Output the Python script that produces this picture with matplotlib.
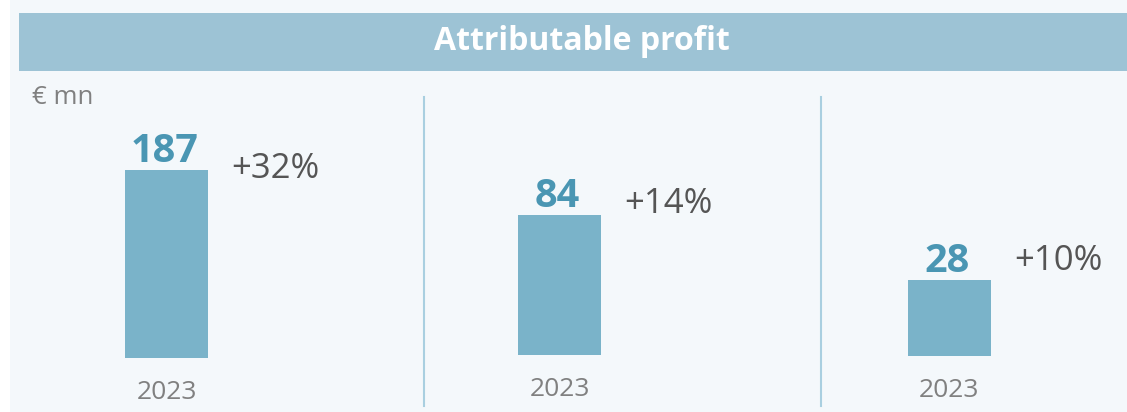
import matplotlib
matplotlib.use("Agg")
import matplotlib.pyplot as plt
from matplotlib.patches import Rectangle
from matplotlib.lines import Line2D

# attributable profit per business, € mn, with y/y change
values = [187, 84, 28]
changes = ["+32%", "+14%", "+10%"]
years = ["2023", "2023", "2023"]

BG = "#f4f8fb"
BAND = "#9dc3d5"
BAR = "#7ab3c9"
NUM = "#4a96b3"
PCT = "#555555"
GREY = "#808080"
SEP = "#a9cfe0"

W, H = 1127, 412
plt.rcParams["font.family"] = ["Open Sans", "DejaVu Sans"]

fig = plt.figure(figsize=(W / 100, H / 100), dpi=100)
fig.patch.set_facecolor(BG)


def fx(px):
    return px / W


def fy(py):
    return 1 - py / H


# white margin on the left, title band on top
fig.add_artist(Rectangle((0, 0), fx(10), 1, transform=fig.transFigure,
                         facecolor="white", edgecolor="none"))
fig.add_artist(Rectangle((fx(19), fy(71)), fx(W - 19), (71 - 13) / H,
                         transform=fig.transFigure, facecolor=BAND, edgecolor="none"))
fig.text(fx(582), fy(42), "Attributable profit", color="white", fontsize=23,
         fontweight="bold", ha="center", va="center")
fig.text(fx(32), fy(97), "€ mn", color=GREY, fontsize=18.5, ha="left", va="center")

# panel dividers
for x in (424, 821):
    fig.add_artist(Line2D([fx(x), fx(x)], [fy(406), fy(97)], transform=fig.transFigure,
                          color=SEP, lw=1.5))

# per-panel layout: bar centre (px), base (px), y-limit, pct text baseline offset (px)
centres = [166.5, 559.5, 949]
bases = [358, 355, 356]
ylims = [257, 153, 94.3]
pct_offsets = [-8, 2, 10]

for v, ch, yr, cx, base, ym, po in zip(values, changes, years, centres, bases, ylims, pct_offsets):
    top = 100
    ax = fig.add_axes([fx(cx - 150), fy(base), fx(300), (base - top) / H])
    ax.set_xlim(-1.5, 1.5)
    ax.set_ylim(0, ym)
    ax.set_facecolor("none")
    ax.bar([0], [v], width=0.83, color=BAR)
    for s in ax.spines.values():
        s.set_visible(False)
    ax.set_yticks([])
    ax.set_xticks([0])
    ax.set_xticklabels([yr], color=GREY, fontsize=19)
    ax.tick_params(axis="x", length=0, pad=16)
    ax.annotate(f"{v}", (0, v), xytext=(-2, 8), textcoords="offset pixels",
                ha="center", va="baseline", color=NUM, fontsize=28.5, fontweight="bold")
    ax.annotate(ch, (0, v), xytext=(65, po), textcoords="offset pixels",
                ha="left", va="baseline", color=PCT, fontsize=25)

fig.savefig("out.png", dpi=100, facecolor=BG)
